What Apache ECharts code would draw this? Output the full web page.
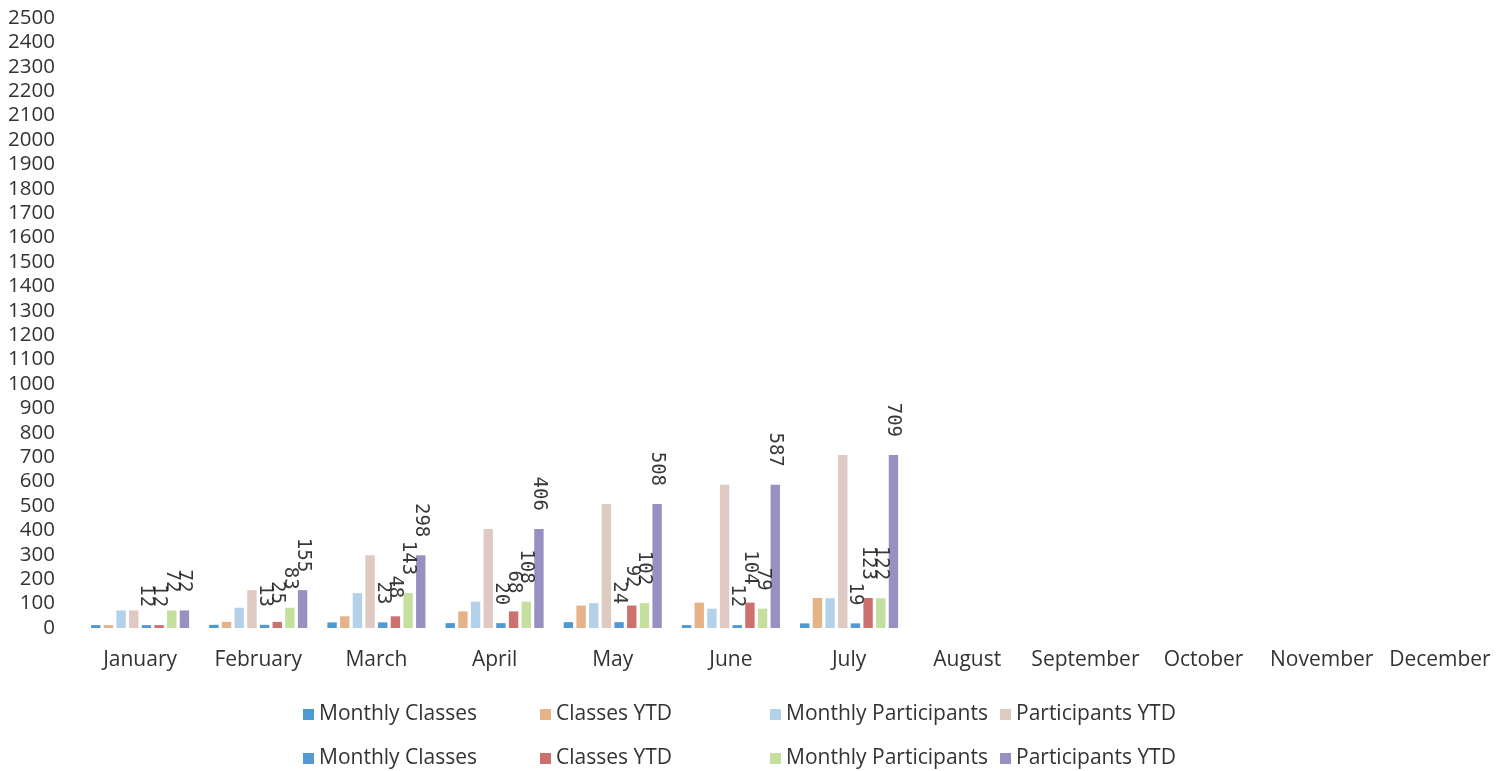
<!DOCTYPE html>
<html>
<head>
<meta charset="utf-8">
<script src="https://cdn.jsdelivr.net/npm/echarts@6/dist/echarts.min.js"></script>
<style>
html, body { margin: 0; padding: 0; background: #fff; }
#chart { width: 1507px; height: 771px; }
</style>
</head>
<body>
<div id="chart"></div>
<script>
// chart data
const months = ["January", "February", "March", "April", "May", "June", "July",
    "August", "September", "October", "November", "December"];
const monthlyClasses = [12, 13, 23, 20, 24, 12, 19];
const classesYTD = [12, 25, 48, 68, 92, 104, 123];
const monthlyParticipants = [72, 83, 143, 108, 102, 79, 122];
const participantsYTD = [72, 155, 298, 406, 508, 587, 709];
const legendNames = ["Monthly Classes", "Classes YTD", "Monthly Participants", "Participants YTD"];

const colorsA = ["#3a8fcd", "#e3ab7c", "#abcde8", "#dcc3bd"];
const colorsB = ["#3f8fd2", "#c8625f", "#bfdb95", "#8c84ba"];
const valuesAll = [monthlyClasses, classesYTD, monthlyParticipants, participantsYTD];

let chart = echarts.init(document.getElementById("chart"));

let series = [];
valuesAll.forEach(function (vals, i) {
    series.push({
        name: legendNames[i] + " A",
        type: "bar",
        barGap: "35%",
        barCategoryGap: "17%",
        itemStyle: { color: colorsA[i], opacity: 0.9 },
        data: vals
    });
});
valuesAll.forEach(function (vals, i) {
    series.push({
        name: legendNames[i] + " B",
        type: "bar",
        barGap: "35%",
        barCategoryGap: "17%",
        itemStyle: { color: colorsB[i], opacity: 0.9 },
        label: {
            show: true,
            position: "top",
            rotate: -90,
            align: "right",
            verticalAlign: "middle",
            distance: 18,
            color: "#222",
            fontFamily: "DejaVu Sans Mono",
            fontSize: 19
        },
        data: vals
    });
});

// one legend per item so the columns line up like the original
const legendCols = [298, 535, 765, 995];
let legends = [];
[[" A", 699], [" B", 743]].forEach(function (row) {
    legendNames.forEach(function (n, i) {
        legends.push({
            left: legendCols[i],
            top: row[1],
            itemWidth: 11,
            itemHeight: 11,
            icon: "rect",
            data: [n + row[0]],
            formatter: function (name) { return name.slice(0, -2); },
            textStyle: {
                fontSize: 21,
                fontFamily: "Open Sans",
                color: "#333"
            }
        });
    });
});

chart.setOption({
    animation: false,
    backgroundColor: "#fff",
    grid: {
        left: 81,
        right: 8,
        top: 18,
        bottom: 143
    },
    legend: legends,
    xAxis: {
        type: "category",
        data: months,
        axisLine: { show: false },
        axisTick: { show: false },
        axisLabel: {
            interval: 0,
            margin: 22,
            color: "#333",
            fontSize: 21,
            fontFamily: "Open Sans"
        }
    },
    yAxis: {
        type: "value",
        min: 0,
        max: 2500,
        interval: 100,
        splitLine: { show: false },
        axisLabel: {
            margin: 26,
            color: "#333",
            fontSize: 20.5,
            fontFamily: "Open Sans",
            formatter: function (v) { return String(v); }
        }
    },
    series: series
});
</script>
</body>
</html>
